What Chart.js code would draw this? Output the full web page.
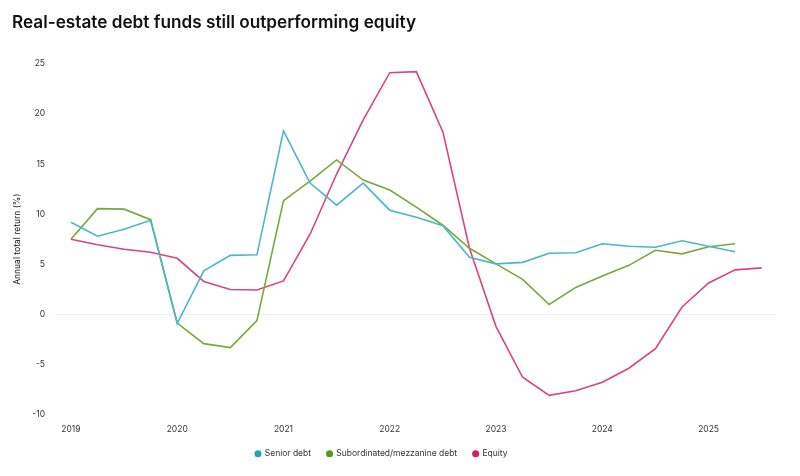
<!DOCTYPE html>
<html>
<head>
<meta charset="utf-8">
<script src="https://cdn.jsdelivr.net/npm/chart.js@4/dist/chart.umd.min.js"></script>
<style>
  html, body { margin: 0; padding: 0; background: #ffffff; }
  #wrap { width: 800px; height: 476px; }
</style>
</head>
<body>
<div id="wrap"><canvas id="c" width="800" height="476"></canvas></div>
<script>
// Quarterly periods (2019 Q1 .. 2025 Q3)
const quarters = [
  "2019 Q1","2019 Q2","2019 Q3","2019 Q4",
  "2020 Q1","2020 Q2","2020 Q3","2020 Q4",
  "2021 Q1","2021 Q2","2021 Q3","2021 Q4",
  "2022 Q1","2022 Q2","2022 Q3","2022 Q4",
  "2023 Q1","2023 Q2","2023 Q3","2023 Q4",
  "2024 Q1","2024 Q2","2024 Q3","2024 Q4",
  "2025 Q1","2025 Q2","2025 Q3"
];
const yearTicks = ["2019","2020","2021","2022","2023","2024","2025"];
const yTicks = [-10, -5, 0, 5, 10, 15, 20, 25];

const seriesNames = ["Senior debt", "Subordinated/mezzanine debt", "Equity"];

const seniorDebt = [
  9.2, 7.8, 8.5, 9.4,
  -0.9, 4.35, 5.9, 5.95,
  18.3, 13.1, 10.9, 13.1,
  10.4, 9.7, 8.85, 5.7,
  5.05, 5.2, 6.1, 6.15,
  7.05, 6.8, 6.7, 7.35,
  6.8, 6.25
];
const subordinatedDebt = [
  7.5, 10.55, 10.5, 9.45,
  -0.85, -2.9, -3.3, -0.6,
  11.35, 13.3, 15.4, 13.4,
  12.4, 10.7, 8.9, 6.6,
  5.05, 3.5, 1.0, 2.7,
  3.85, 4.9, 6.4, 6.05,
  6.75, 7.05
];
const equity = [
  7.5, 6.95, 6.5, 6.2,
  5.6, 3.3, 2.5, 2.45,
  3.35, 8.0, 14.0, 19.4,
  24.1, 24.2, 18.2, 6.6,
  -1.2, -6.25, -8.05, -7.6,
  -6.75, -5.35, -3.4, 0.75,
  3.15, 4.45, 4.65
];

const lineColors = ["#4ab6c8", "#76a93c", "#dc4380"];
const dotColors  = ["#1ea6be", "#56991b", "#d61c6b"];

const toPoints = arr => arr.map((v, i) => ({ x: i, y: v, q: quarters[i] }));

const FONT = "Inter, 'Noto Sans', 'DejaVu Sans', sans-serif";

const data = {
  datasets: [seniorDebt, subordinatedDebt, equity].map((arr, k) => ({
    label: seriesNames[k],
    data: toPoints(arr),
    borderColor: lineColors[k],
    backgroundColor: dotColors[k],
    borderWidth: 1.6,
    pointRadius: 0,
    tension: 0,
    fill: false
  }))
};

const legendShift = {
  id: 'legendShift',
  afterLayout(chart) {
    const lg = chart.legend;
    if (lg) { lg.left -= 12; lg.right -= 12; }
  }
};

new Chart(document.getElementById('c'), {
  type: 'line',
  data,
  plugins: [legendShift],
  options: {
    responsive: false,
    animation: false,
    layout: { padding: { left: 12, right: 25, top: 0, bottom: 8 } },
    plugins: {
      title: {
        display: true,
        text: "Real-estate debt funds still outperforming equity",
        align: 'start',
        color: '#111111',
        font: { family: FONT, size: 17.2, weight: '600' },
        padding: { top: 13, bottom: 30 }
      },
      legend: {
        position: 'bottom',
        labels: {
          usePointStyle: true,
          pointStyle: 'circle',
          boxWidth: 5,
          boxHeight: 5,
          padding: 16,
          color: '#333333',
          font: { family: FONT, size: 8.5 },
          generateLabels(chart) {
            const items = Chart.defaults.plugins.legend.labels.generateLabels(chart);
            items.forEach((it, i) => { it.fillStyle = dotColors[i]; it.strokeStyle = dotColors[i]; it.lineWidth = 0; });
            return items;
          }
        }
      },
      tooltip: { enabled: false }
    },
    scales: {
      x: {
        type: 'linear',
        min: -0.6,
        max: 26.5,
        border: { display: false },
        grid: { display: false, drawTicks: false },
        afterFit(scale) { scale.height = 18.6; },
        afterBuildTicks(scale) {
          scale.ticks = yearTicks.map((t, i) => ({ value: i * 4 }));
        },
        ticks: {
          padding: 9,
          color: '#333333',
          font: { family: FONT, size: 8.5 },
          maxRotation: 0,
          autoSkip: false,
          callback: (v) => yearTicks[Math.round(v / 4)]
        }
      },
      y: {
        min: -10,
        max: 25,
        border: { display: false },
        afterFit(scale) { scale.width = 43; },
        afterBuildTicks(scale) {
          scale.ticks = yTicks.map(v => ({ value: v }));
        },
        grid: {
          drawTicks: false,
          color: ctx => (ctx.tick && ctx.tick.value === 0) ? '#f0f0f0' : 'rgba(0,0,0,0)',
          lineWidth: 1
        },
        ticks: {
          padding: 10,
          color: '#333333',
          font: { family: FONT, size: 8.5 }
        },
        title: {
          display: true,
          text: 'Annual total return (%)',
          color: '#111111',
          font: { family: FONT, size: 8.5 },
          padding: 0
        }
      }
    }
  }
});
</script>
</body>
</html>
